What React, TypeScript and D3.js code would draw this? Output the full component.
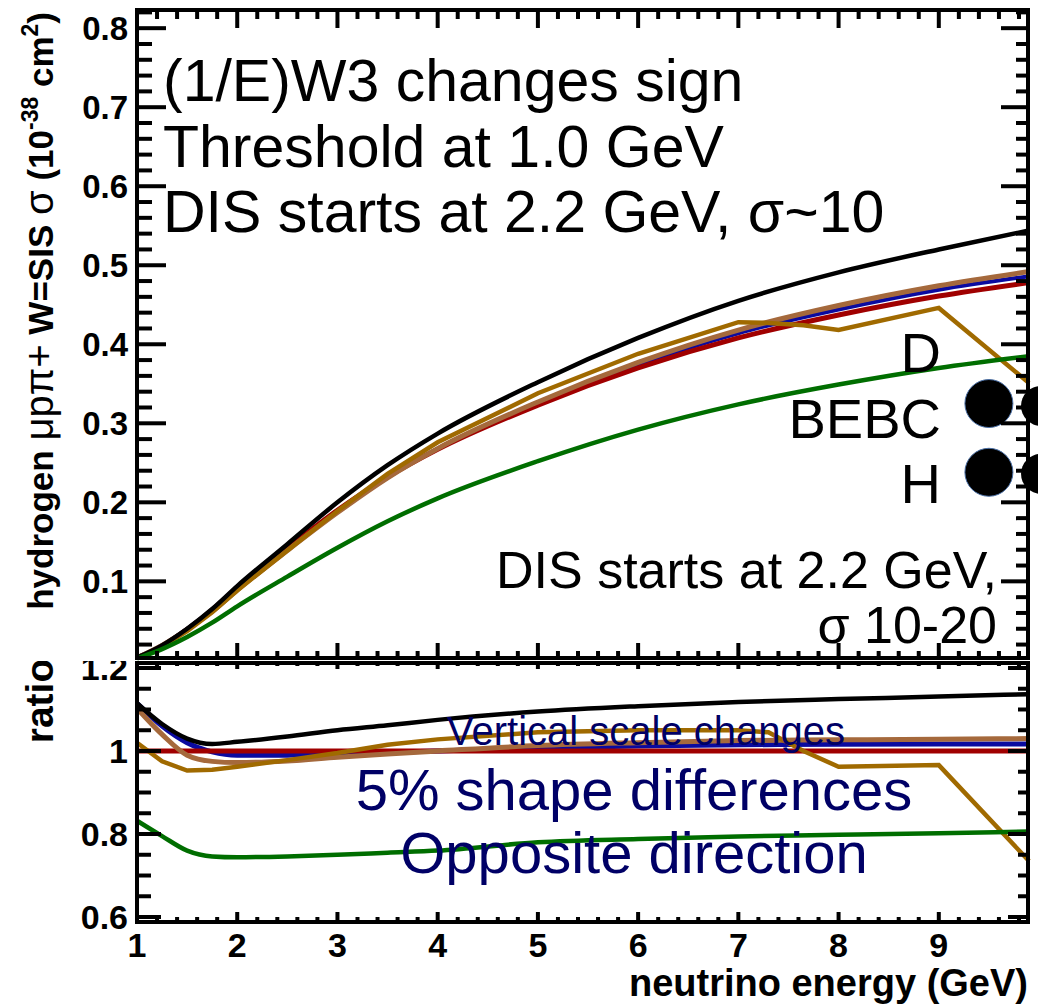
import React from 'react';
import * as d3 from 'd3';

// neutrino energy (GeV) sample points for the smooth curves
const energy = [1, 1.25, 1.5, 1.75, 2, 2.5, 3, 3.5, 4, 5, 6, 7, 8, 9, 9.9];
// the gold curve has kinks, so it gets its own points
const goldEnergy = [1, 1.25, 1.5, 1.75, 2, 2.5, 3, 3.5, 4, 5, 6, 7, 7.3, 7.65, 8, 9, 9.9];

// cross sections, 10^-38 cm^2
const xsecBlack = [0.0035, 0.019, 0.040, 0.065, 0.094, 0.147, 0.200, 0.247, 0.287, 0.352, 0.408, 0.455, 0.491, 0.520, 0.544];
const xsecBlue = [0.0034, 0.019, 0.040, 0.064, 0.091, 0.141, 0.189, 0.232, 0.268, 0.325, 0.374, 0.414, 0.444, 0.469, 0.486];
const xsecRed = [0.003, 0.018, 0.039, 0.064, 0.092, 0.142, 0.190, 0.232, 0.267, 0.323, 0.370, 0.408, 0.437, 0.461, 0.478];
const xsecBrown = [0.0033, 0.019, 0.039, 0.062, 0.089, 0.139, 0.187, 0.231, 0.268, 0.327, 0.377, 0.418, 0.449, 0.474, 0.492];
const xsecGreen = [0.0025, 0.0143, 0.0296, 0.0477, 0.0684, 0.106, 0.1425, 0.176, 0.205, 0.252, 0.292, 0.324, 0.349, 0.370, 0.385];
const xsecGold = [0.003, 0.0176, 0.037, 0.061, 0.0885, 0.139, 0.189, 0.236, 0.276, 0.338, 0.388, 0.428, 0.427, 0.424, 0.418, 0.446, 0.351];

// ratios to the red curve
const ratioBlack = [1.115, 1.065, 1.03, 1.017, 1.022, 1.035, 1.05, 1.062, 1.075, 1.095, 1.108, 1.118, 1.125, 1.131, 1.137];
const ratioBlue = [1.115, 1.06, 1.02, 0.998, 0.99, 0.99, 0.993, 0.997, 1.0, 1.007, 1.012, 1.015, 1.016, 1.017, 1.017];
const ratioRed = [1, 1, 1, 1, 1, 1, 1, 1, 1, 1, 1, 1, 1, 1, 1];
const ratioBrown = [1.103, 1.04, 0.99, 0.975, 0.972, 0.976, 0.985, 0.993, 1.0, 1.013, 1.02, 1.025, 1.027, 1.028, 1.03];
const ratioGreen = [0.832, 0.795, 0.76, 0.746, 0.744, 0.746, 0.75, 0.755, 0.76, 0.78, 0.788, 0.794, 0.798, 0.802, 0.806];
const ratioGold = [1.02, 0.975, 0.953, 0.955, 0.962, 0.978, 0.995, 1.015, 1.028, 1.045, 1.05, 1.05, 1.045, 1.0, 0.962, 0.966, 0.735];

// BEBC data points (D and H)
const bebcEnergy = [9.5, 9.5];
const bebcXsec = [0.325, 0.238];
const edgeEnergy = [10.02, 10.02];
const edgeXsec = [0.322, 0.236];

const xTickLabels = ['1', '2', '3', '4', '5', '6', '7', '8', '9'];
const yTopTickLabels = ['0.1', '0.2', '0.3', '0.4', '0.5', '0.6', '0.7', '0.8'];
const yRatioTickLabels = ['0.6', '0.8', '1', '1.2'];

const FONT = '"Liberation Sans", Arial, Helvetica, sans-serif';

const left = 137;
const right = 1028;
const topY0 = 10;
const topY1 = 658;
const botY0 = 663;
const botY1 = 922;

const x = d3.scaleLinear().domain([1, 9.89]).range([left, right]);
const yTop = d3.scaleLinear().domain([0.003, 0.823]).range([topY1, topY0]);
const yBot = d3.scaleLinear().domain([0.588, 1.212]).range([botY1, botY0]);

const topSeries = [
  { xs: energy, ys: xsecBlue, color: '#0a0aa0', w: 4, linear: false },
  { xs: energy, ys: xsecRed, color: '#a00000', w: 5, linear: false },
  { xs: energy, ys: xsecBrown, color: '#a5693c', w: 5, linear: false },
  { xs: goldEnergy, ys: xsecGold, color: '#a06a00', w: 4.5, linear: true },
  { xs: energy, ys: xsecBlack, color: '#000000', w: 4.5, linear: false },
  { xs: energy, ys: xsecGreen, color: '#006e00', w: 4.5, linear: false },
];

const ratioSeries = [
  { xs: energy, ys: ratioBlue, color: '#0a0aa0', w: 5, linear: false },
  { xs: energy, ys: ratioRed, color: '#a00000', w: 5, linear: false },
  { xs: energy, ys: ratioBrown, color: '#a5693c', w: 5, linear: false },
  { xs: goldEnergy, ys: ratioGold, color: '#a06a00', w: 4.5, linear: true },
  { xs: energy, ys: ratioBlack, color: '#000000', w: 4.5, linear: false },
  { xs: energy, ys: ratioGreen, color: '#006e00', w: 4.5, linear: false },
];

const makePath = (xs: number[], ys: number[], yScale: any, linear: boolean) => {
  const line = d3.line<number>()
    .x((_, i) => x(xs[i]))
    .y(d => yScale(d))
    .curve(linear ? d3.curveLinear : d3.curveMonotoneX);
  return line(ys) || '';
};

// tick marks for a framed panel, ticks on all four sides pointing inward
const Ticks = ({ yScale, y0, y1, yMajor, yMinor, lens }: any) => {
  const xMajor = d3.range(2, 10);
  const xMinor = d3.range(1.2, 9.89, 0.2).filter(v => Math.abs(v - Math.round(v)) > 0.01);
  const out: any[] = [];
  yMajor.forEach((v: number, i: number) => {
    out.push(<line key={'lM' + i} x1={left} x2={left + lens.lM} y1={yScale(v)} y2={yScale(v)} />);
    out.push(<line key={'rM' + i} x1={right} x2={right - lens.rM} y1={yScale(v)} y2={yScale(v)} />);
  });
  yMinor.forEach((v: number, i: number) => {
    out.push(<line key={'lm' + i} x1={left} x2={left + lens.lm} y1={yScale(v)} y2={yScale(v)} />);
    out.push(<line key={'rm' + i} x1={right} x2={right - lens.rm} y1={yScale(v)} y2={yScale(v)} />);
  });
  xMajor.forEach((v: number, i: number) => {
    out.push(<line key={'bM' + i} x1={x(v)} x2={x(v)} y1={y1} y2={y1 - lens.bM} />);
    out.push(<line key={'tM' + i} x1={x(v)} x2={x(v)} y1={y0} y2={y0 + lens.tM} />);
  });
  xMinor.forEach((v: number, i: number) => {
    out.push(<line key={'bm' + i} x1={x(v)} x2={x(v)} y1={y1} y2={y1 - lens.bm} />);
    out.push(<line key={'tm' + i} x1={x(v)} x2={x(v)} y1={y0} y2={y0 + lens.tm} />);
  });
  return <g stroke="#000" strokeWidth={4}>{out}</g>;
};

const App = () => {
  const topMajor = d3.range(1, 9).map(v => v / 10);
  const topMinor = d3.range(1, 42).map(v => v * 0.02).filter(v => Math.abs(v * 10 - Math.round(v * 10)) > 0.01);
  const botMajor = [0.6, 0.8, 1.0, 1.2];
  const botMinor = d3.range(0.6, 1.21, 0.05).filter(v => Math.abs(v * 5 - Math.round(v * 5)) > 0.01);

  return (
    <svg width={1038} height={1006} style={{ display: 'block', background: '#fff' }} fontFamily={FONT}>
      <style>{'body{margin:0}'}</style>
      <rect x={0} y={0} width={1038} height={1006} fill="#fff" />

      {/* ratio panel */}
      <g>
        {yRatioTickLabels.map((t, i) => (
          <text key={t} x={128} y={yBot(botMajor[i])} dy="0.36em" textAnchor="end" fontSize={34} fontWeight="bold">{t}</text>
        ))}
        {ratioSeries.map((s, i) => (
          <path key={i} d={makePath(s.xs, s.ys, yBot, s.linear)} fill="none" stroke={s.color} strokeWidth={s.w} />
        ))}
        <text x={845} y={745} textAnchor="end" fontSize={40} fill="#000066">Vertical scale changes</text>
        <text x={634} y={810} textAnchor="middle" fontSize={58} fill="#000066">5% shape differences</text>
        <text x={634} y={873} textAnchor="middle" fontSize={58} fill="#000066">Opposite direction</text>
        <Ticks yScale={yBot} y0={botY0} y1={botY1} yMajor={botMajor} yMinor={botMinor}
          lens={{ lM: 24, lm: 14, rM: 20, rm: 10, bM: 10, bm: 5, tM: 6, tm: 3 }} />
        <rect x={left} y={botY0} width={right - left} height={botY1 - botY0} fill="none" stroke="#000" strokeWidth={4} />
        {xTickLabels.map((t, i) => (
          <text key={t} x={x(i + 1)} y={957} textAnchor="middle" fontSize={34} fontWeight="bold">{t}</text>
        ))}
        <text x={1028} y={996} textAnchor="end" fontSize={38} fontWeight="bold">neutrino energy (GeV)</text>
        <text transform="translate(53,701) rotate(-90)" textAnchor="middle" fontSize={39} fontWeight="bold">ratio</text>
      </g>

      {/* cross-section panel, its white pad hides the top of the "1.2" label */}
      <g>
        <rect x={0} y={0} width={1038} height={661} fill="#fff" />
        {yTopTickLabels.map((t, i) => (
          <text key={t} x={128} y={yTop(topMajor[i])} dy="0.36em" textAnchor="end" fontSize={33} fontWeight="bold">{t}</text>
        ))}
        {topSeries.map((s, i) => (
          <path key={i} d={makePath(s.xs, s.ys, yTop, s.linear)} fill="none" stroke={s.color} strokeWidth={s.w} />
        ))}
        <g fontSize={59}>
          <text x={163} y={101}>(1/E)W3 changes sign</text>
          <text x={163} y={167}>Threshold at 1.0 GeV</text>
          <text x={163} y={232}>DIS starts at 2.2 GeV, σ~10</text>
        </g>
        <g fontSize={56} textAnchor="end">
          <text x={941} y={372}>D</text>
          <text x={941} y={438}>BEBC</text>
          <text x={941} y={503}>H</text>
        </g>
        <g fontSize={52} textAnchor="end">
          <text x={997} y={588}>DIS starts at 2.2 GeV,</text>
          <text x={997} y={643}>σ 10-20</text>
        </g>
        {bebcEnergy.map((e, i) => (
          <circle key={'b' + i} cx={x(e)} cy={yTop(bebcXsec[i])} r={24} fill="#000" stroke="#4a6fa5" strokeWidth={1} />
        ))}
        {edgeEnergy.map((e, i) => (
          <circle key={'e' + i} cx={x(e)} cy={yTop(edgeXsec[i])} r={20} fill="#000" />
        ))}
        <Ticks yScale={yTop} y0={topY0} y1={topY1} yMajor={topMajor} yMinor={topMinor}
          lens={{ lM: 29, lm: 15, rM: 27, rm: 12, bM: 15, bm: 7, tM: 18, tm: 9 }} />
        <rect x={left} y={topY0} width={right - left} height={topY1 - topY0} fill="none" stroke="#000" strokeWidth={4} />
        <text transform="translate(53,12) rotate(-90)" textAnchor="end" fontSize={35} fontWeight="bold">
          <tspan>hydrogen </tspan>
          <tspan fontWeight="normal" fontSize={40}>μpπ+</tspan>
          <tspan> W=SIS </tspan>
          <tspan fontWeight="normal" fontSize={40}>σ</tspan>
          <tspan> (10</tspan>
          <tspan fontSize={23} dy={-15}>-38</tspan>
          <tspan dy={15}> cm</tspan>
          <tspan fontSize={23} dy={-15}>2</tspan>
          <tspan dy={15}>)</tspan>
        </text>
      </g>
    </svg>
  );
};

export default App;
